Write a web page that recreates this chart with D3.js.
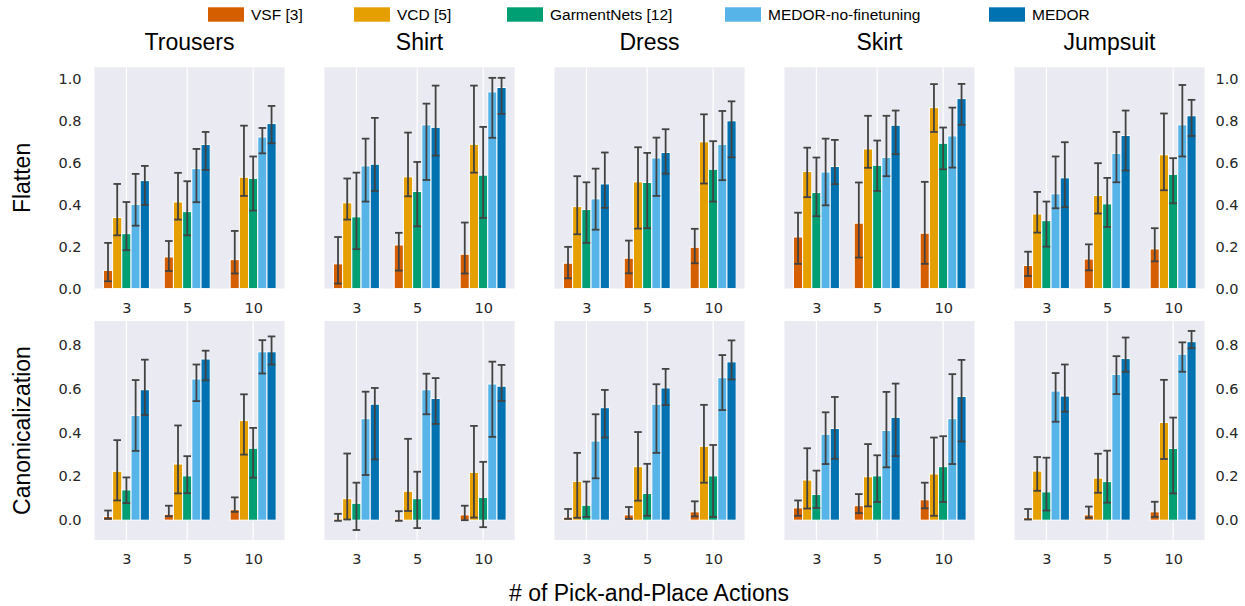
<!DOCTYPE html>
<html>
<head>
<meta charset="utf-8">
<script src="https://cdn.jsdelivr.net/npm/d3@7"></script>
<style>
  body { margin: 0; background: #fff; }
</style>
</head>
<body>
<svg id="chart" width="1245" height="606"></svg>
<script>
// categories
const garments = ["Trousers", "Shirt", "Dress", "Skirt", "Jumpsuit"];
const tasks = ["Flatten", "Canonicalization"];
const actions = ["3", "5", "10"];
const methods = ["VSF [3]", "VCD [5]", "GarmentNets [12]", "MEDOR-no-finetuning", "MEDOR"];
const colors = ["#D55E00", "#E69F00", "#009E73", "#56B4E9", "#0072B2"];
const flattenTicks = [0, 0.2, 0.4, 0.6, 0.8, 1.0];
const canonTicks = [0, 0.2, 0.4, 0.6, 0.8];

// values: [garment][method][action 3,5,10]
const flattenMean = [
  [[0.087,0.151,0.138],[0.339,0.413,0.531],[0.262,0.367,0.526],[0.402,0.572,0.723],[0.515,0.687,0.787]],
  [[0.118,0.208,0.164],[0.409,0.533,0.688],[0.342,0.463,0.541],[0.585,0.781,0.938],[0.593,0.769,0.959]],
  [[0.121,0.145,0.197],[0.391,0.509,0.700],[0.377,0.506,0.569],[0.428,0.623,0.688],[0.499,0.649,0.800]],
  [[0.246,0.312,0.264],[0.558,0.666,0.863],[0.458,0.588,0.693],[0.556,0.626,0.728],[0.582,0.779,0.906]],
  [[0.110,0.141,0.189],[0.356,0.444,0.638],[0.324,0.404,0.545],[0.452,0.645,0.781],[0.528,0.730,0.824]]
];
const flattenLow = [
  [[0.035,0.084,0.072],[0.254,0.329,0.442],[0.183,0.254,0.372],[0.300,0.412,0.645],[0.399,0.566,0.693]],
  [[0.024,0.086,0.072],[0.329,0.440,0.553],[0.188,0.297,0.337],[0.415,0.518,0.719],[0.466,0.634,0.833]],
  [[0.049,0.073,0.121],[0.259,0.286,0.501],[0.218,0.288,0.415],[0.281,0.442,0.517],[0.385,0.548,0.626]],
  [[0.118,0.148,0.118],[0.436,0.576,0.747],[0.345,0.466,0.569],[0.397,0.536,0.577],[0.498,0.641,0.781]],
  [[0.060,0.087,0.130],[0.267,0.358,0.469],[0.200,0.294,0.407],[0.383,0.507,0.630],[0.388,0.563,0.728]]
];
const flattenHigh = [
  [[0.218,0.227,0.275],[0.499,0.552,0.777],[0.413,0.512,0.630],[0.547,0.666,0.766],[0.585,0.747,0.871]],
  [[0.246,0.266,0.315],[0.525,0.744,0.968],[0.553,0.604,0.771],[0.715,0.882,1.005],[0.814,0.968,1.005]],
  [[0.199,0.229,0.285],[0.536,0.674,0.831],[0.507,0.647,0.703],[0.572,0.720,0.847],[0.649,0.760,0.893]],
  [[0.362,0.506,0.509],[0.672,0.824,0.975],[0.625,0.706,0.768],[0.715,0.824,0.863],[0.709,0.849,0.976]],
  [[0.176,0.211,0.288],[0.461,0.598,0.835],[0.415,0.528,0.622],[0.630,0.747,0.971],[0.698,0.849,0.900]]
];
const canonMean = [
  [[0.017,0.027,0.048],[0.223,0.256,0.454],[0.138,0.202,0.328],[0.478,0.644,0.768],[0.595,0.735,0.768]],
  [[0.006,0.006,0.024],[0.098,0.132,0.218],[0.077,0.098,0.104],[0.463,0.595,0.621],[0.529,0.555,0.611]],
  [[0.014,0.024,0.038],[0.177,0.244,0.337],[0.068,0.122,0.202],[0.361,0.529,0.650],[0.513,0.603,0.722]],
  [[0.056,0.066,0.093],[0.183,0.198,0.211],[0.117,0.202,0.244],[0.392,0.409,0.463],[0.418,0.469,0.564]],
  [[0.011,0.024,0.038],[0.224,0.192,0.446],[0.129,0.176,0.327],[0.589,0.665,0.757],[0.566,0.737,0.814]]
];
const canonLow = [
  [[0.006,0.018,0.038],[0.090,0.122,0.299],[0.078,0.123,0.194],[0.316,0.543,0.669],[0.480,0.638,0.710]],
  [[-0.003,-0.003,0.000],[0.003,0.042,0.012],[-0.045,-0.036,-0.032],[0.206,0.483,0.380],[0.277,0.439,0.544]],
  [[0.006,0.006,0.017],[0.011,0.089,0.171],[0.015,0.020,0.015],[0.191,0.307,0.502],[0.377,0.525,0.642]],
  [[0.020,0.032,0.054],[0.053,0.063,0.020],[0.056,0.083,0.083],[0.256,0.241,0.256],[0.280,0.292,0.359]],
  [[0.003,0.011,0.015],[0.134,0.125,0.279],[0.044,0.080,0.122],[0.449,0.575,0.677],[0.495,0.677,0.784]]
];
const canonHigh = [
  [[0.044,0.066,0.104],[0.365,0.432,0.574],[0.195,0.292,0.421],[0.639,0.710,0.821],[0.732,0.773,0.838]],
  [[0.029,0.041,0.066],[0.304,0.371,0.430],[0.171,0.221,0.266],[0.586,0.668,0.723],[0.603,0.648,0.708]],
  [[0.051,0.060,0.086],[0.307,0.402,0.526],[0.176,0.257,0.343],[0.483,0.620,0.753],[0.594,0.690,0.820]],
  [[0.090,0.119,0.171],[0.328,0.347,0.377],[0.226,0.296,0.383],[0.492,0.585,0.666],[0.562,0.623,0.731]],
  [[0.051,0.062,0.084],[0.288,0.303,0.640],[0.285,0.317,0.468],[0.671,0.748,0.811],[0.710,0.833,0.863]]
];

// layout
const panelW = 190;
const actionFrac = [0.168, 0.488, 0.835];   // where each group sits inside a panel
const groupW = 46;
const rowBoxes = [{ top: 67.3, bottom: 288.6 }, { top: 321, bottom: 540 }];
const legendX = [208, 354, 507, 725, 989];
const tickFont = "'DejaVu Sans', sans-serif";
const labelFont = "'Liberation Sans', Arial, sans-serif";

const svg = d3.select("#chart");

const xPanel = d3.scaleBand().domain(garments).range([94.5, 1204.5])
  .paddingInner(40 / 230).paddingOuter(0);
const xAct = d3.scaleOrdinal().domain(actions).range(actionFrac.map(f => f * panelW));
const xHue = d3.scaleBand().domain(methods).range([-groupW / 2, groupW / 2]);
const color = d3.scaleOrdinal().domain(methods).range(colors);

const taskData = [
  { mean: flattenMean, low: flattenLow, high: flattenHigh, ticks: flattenTicks },
  { mean: canonMean, low: canonLow, high: canonHigh, ticks: canonTicks }
];

taskData.forEach((td, r) => {
  const box = rowBoxes[r];
  // matplotlib-like autoscale: 5% margins, bars stick to zero
  const hi = d3.max(td.high.flat(2));
  const lo = Math.min(0, d3.min(td.low.flat(2)));
  const span = hi - lo;
  const y = d3.scaleLinear()
    .domain([lo < 0 ? lo - 0.05 * span : 0, hi + 0.05 * span])
    .range([box.bottom, box.top]);

  garments.forEach((gName, gi) => {
    const g = svg.append("g").attr("transform", `translate(${xPanel(gName)},0)`);

    g.append("rect")
      .attr("x", 0).attr("y", box.top)
      .attr("width", panelW).attr("height", box.bottom - box.top)
      .attr("fill", "#EAEAF2");

    g.selectAll("line.grid").data(actions).enter().append("line")
      .attr("class", "grid")
      .attr("x1", d => xAct(d)).attr("x2", d => xAct(d))
      .attr("y1", box.top).attr("y2", box.bottom)
      .attr("stroke", "#fff").attr("stroke-width", 1.2);

    const rows = [];
    methods.forEach((m, mi) => actions.forEach((a, ai) => {
      rows.push({ m, a, v: td.mean[gi][mi][ai], lo: td.low[gi][mi][ai], hi: td.high[gi][mi][ai] });
    }));

    g.selectAll("rect.bar").data(rows).enter().append("rect")
      .attr("class", "bar")
      .attr("x", d => xAct(d.a) + xHue(d.m))
      .attr("y", d => y(d.v))
      .attr("width", xHue.bandwidth())
      .attr("height", d => y(0) - y(d.v))
      .attr("fill", d => color(d.m))
      .attr("stroke", "#fff").attr("stroke-width", 1);

    const err = g.selectAll("g.err").data(rows).enter().append("g")
      .attr("class", "err")
      .attr("stroke", "#424242").attr("stroke-width", 1.8);
    const cx = d => xAct(d.a) + xHue(d.m) + xHue.bandwidth() / 2;
    err.append("line")
      .attr("x1", cx).attr("x2", cx)
      .attr("y1", d => y(d.lo)).attr("y2", d => y(d.hi));
    err.append("line")
      .attr("x1", d => cx(d) - 3.8).attr("x2", d => cx(d) + 3.8)
      .attr("y1", d => y(d.hi)).attr("y2", d => y(d.hi));
    err.append("line")
      .attr("x1", d => cx(d) - 3.8).attr("x2", d => cx(d) + 3.8)
      .attr("y1", d => y(d.lo)).attr("y2", d => y(d.lo));

    // x tick labels
    const xa = g.append("g").attr("transform", `translate(0,${box.bottom})`)
      .call(d3.axisBottom(xAct).tickSize(0).tickPadding(14));
    xa.select(".domain").remove();
    xa.selectAll("text").attr("font-family", tickFont).attr("font-size", 14.5).attr("fill", "#262626");

    // y tick labels on outer panels
    if (gi === 0 || gi === garments.length - 1) {
      const axis = gi === 0 ? d3.axisLeft(y).tickPadding(13) : d3.axisRight(y).tickPadding(11);
      const ya = g.append("g")
        .attr("transform", gi === 0 ? "translate(0,0)" : `translate(${panelW},0)`)
        .call(axis.tickValues(td.ticks).tickSize(0).tickFormat(d3.format(".1f")));
      ya.select(".domain").remove();
      ya.selectAll("text").attr("font-family", tickFont).attr("font-size", 14.5).attr("fill", "#262626");
    }

    if (r === 0) {
      svg.append("text")
        .attr("x", xPanel(gName) + panelW / 2).attr("y", 50)
        .attr("text-anchor", "middle")
        .attr("font-family", labelFont).attr("font-size", 23)
        .text(gName);
    }
  });

  svg.append("text")
    .attr("transform", `translate(30,${(box.top + box.bottom) / 2}) rotate(-90)`)
    .attr("text-anchor", "middle")
    .attr("font-family", labelFont).attr("font-size", 23)
    .text(tasks[r]);
});

svg.append("text")
  .attr("x", 649).attr("y", 601)
  .attr("text-anchor", "middle")
  .attr("font-family", labelFont).attr("font-size", 23)
  .text("# of Pick-and-Place Actions");

// legend
const legend = svg.selectAll("g.legend").data(methods).enter().append("g")
  .attr("class", "legend")
  .attr("transform", (d, i) => `translate(${legendX[i]},0)`);
legend.append("rect")
  .attr("x", 0).attr("y", 7.3).attr("width", 36).attr("height", 14.4)
  .attr("fill", d => color(d));
legend.append("text")
  .attr("x", 43).attr("y", 19.5)
  .attr("font-family", labelFont).attr("font-size", 15.5)
  .text(d => d);
</script>
</body>
</html>
